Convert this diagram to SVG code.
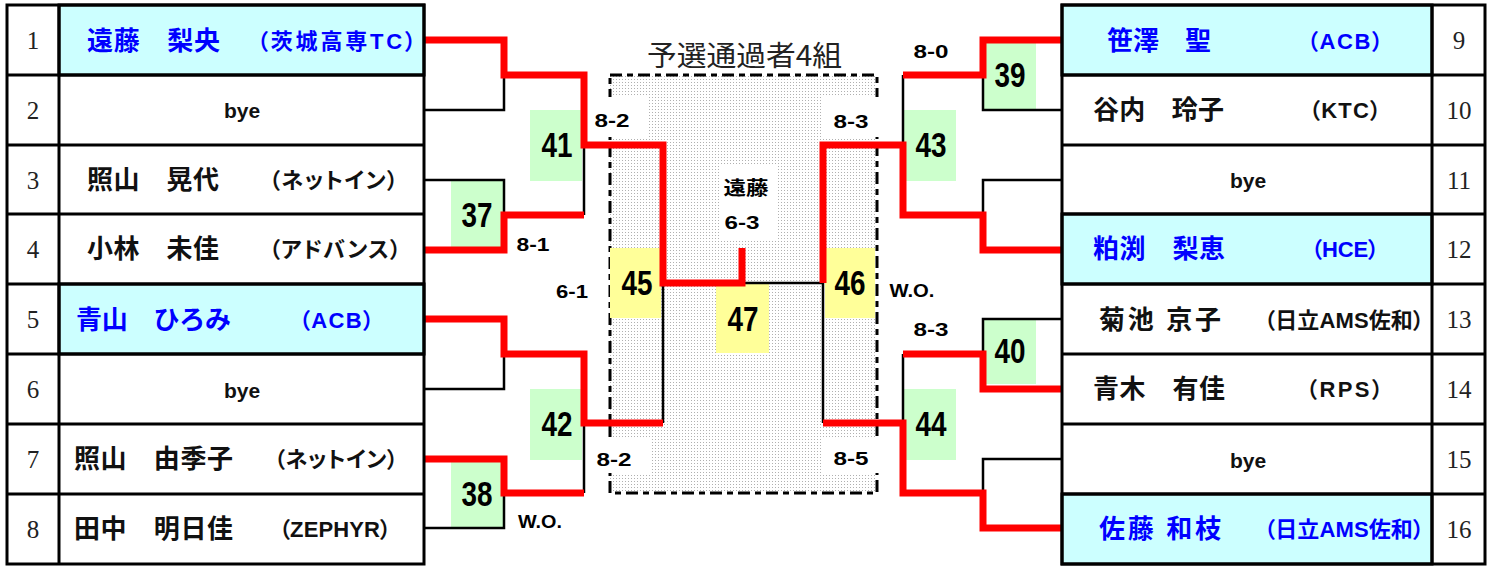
<svg xmlns="http://www.w3.org/2000/svg" width="1495" height="566" viewBox="0 0 1495 566">
<style>
.cell{fill:#ffffff;stroke:#000;stroke-width:3}
.hl{fill:#ccffff;stroke:#000;stroke-width:3}
.grid{stroke:#000;stroke-width:3;fill:none}
.seed{font-family:"Liberation Serif","Noto Serif CJK JP",serif;font-size:25px;fill:#222;text-anchor:middle}
.nm{font-family:"Liberation Sans","Noto Sans CJK JP",sans-serif;font-size:26px;font-weight:bold;fill:#111}
.org{font-family:"Liberation Sans","Noto Sans CJK JP",sans-serif;font-size:22px;font-weight:bold;fill:#111;font-feature-settings:"palt"}
.blue{fill:#0000ff}
.bye{font-family:"Liberation Sans","Noto Sans CJK JP",sans-serif;font-size:21px;font-weight:bold;fill:#111;text-anchor:middle}
.gbox{fill:#ccffcc}
.ybox{fill:#ffff99}
.num{font-family:"Liberation Sans","Noto Sans CJK JP",sans-serif;font-size:35px;font-weight:bold;fill:#000;text-anchor:middle}
.sc{font-family:"Liberation Sans","Noto Sans CJK JP",sans-serif;font-size:19px;font-weight:bold;fill:#000;text-anchor:middle}
.red{fill:none;stroke:#ff0000;stroke-width:7;stroke-linejoin:miter}
.blk{fill:none;stroke:#000;stroke-width:2.5}
</style>
<defs>
<pattern id="dots" width="3" height="3" patternUnits="userSpaceOnUse">
<rect width="3" height="3" fill="#ffffff"/>
<rect x="1" y="1" width="1" height="1" fill="#b0b0b0"/>
</pattern>
</defs>
<rect width="1495" height="566" fill="#ffffff"/>

<g id="final-box">
<rect x="610" y="75" width="267" height="418" fill="url(#dots)" stroke="#000" stroke-width="3" stroke-dasharray="12 5 6 5"/>
<rect x="590" y="97" width="58" height="40" fill="#fff"/>
<rect x="823" y="97" width="58" height="40" fill="#fff"/>
<rect x="590" y="437" width="60" height="36" fill="#fff"/>
<rect x="823" y="437" width="58" height="36" fill="#fff"/>
<rect x="720" y="165" width="57" height="75" fill="#fff"/>
<text x="647" y="66" font-family="'Noto Sans CJK JP',sans-serif" font-size="28" fill="#222" textLength="195" lengthAdjust="spacingAndGlyphs">予選通過者4組</text>
</g>

<g id="match-boxes">
<rect class="gbox" x="451" y="180" width="52" height="69"/>
<rect class="gbox" x="530" y="110" width="52" height="71"/>
<rect class="gbox" x="451" y="460" width="52" height="68"/>
<rect class="gbox" x="530" y="389" width="52" height="71"/>
<rect class="ybox" x="610" y="248" width="51" height="70"/>
<rect class="ybox" x="716" y="284" width="53" height="69"/>
<rect class="ybox" x="825" y="248" width="50" height="70"/>
<rect class="gbox" x="983" y="42" width="53" height="67"/>
<rect class="gbox" x="904" y="110" width="52" height="71"/>
<rect class="gbox" x="983" y="319" width="53" height="65"/>
<rect class="gbox" x="904" y="389" width="52" height="71"/>
</g>

<g id="connectors">
<path class="blk" d="M424,110 H504 V75"/>
<path class="blk" d="M424,180 H504 V215"/>
<path class="blk" d="M584,145 V215"/>
<path class="blk" d="M424,389 H504 V354"/>
<path class="blk" d="M424,528 H504 V493"/>
<path class="blk" d="M584,423 V493"/>
<path class="blk" d="M663,283 V423"/>
<path class="blk" d="M742,283 H823"/>
<path class="blk" d="M1062,110 H983 V75"/>
<path class="blk" d="M903,75 V145"/>
<path class="blk" d="M1062,180 H983 V215"/>
<path class="blk" d="M1062,319 H983 V354"/>
<path class="blk" d="M903,354 V423"/>
<path class="blk" d="M1062,459 H983 V493"/>
<path class="blk" d="M823,283 V423"/>
<path class="red" d="M424,40 H504 V75 H584 V145 H663 V283 H742 V248"/>
<path class="red" d="M424,250 H504 V215 H584"/>
<path class="red" d="M424,319 H504 V354 H584 V423 H663"/>
<path class="red" d="M424,459 H504 V493 H584"/>
<path class="red" d="M1062,40 H983 V75 H903"/>
<path class="red" d="M1062,250 H983 V215 H903 V145 H823 V283"/>
<path class="red" d="M1062,389 H983 V354 H903"/>
<path class="red" d="M1062,528 H983 V493 H903 V423 H823"/>
</g>

<g id="match-labels">
<text class="num" x="477" y="227" textLength="31" lengthAdjust="spacingAndGlyphs">37</text>
<text class="num" x="557" y="157" textLength="31" lengthAdjust="spacingAndGlyphs">41</text>
<text class="num" x="477" y="506" textLength="31" lengthAdjust="spacingAndGlyphs">38</text>
<text class="num" x="557" y="436" textLength="31" lengthAdjust="spacingAndGlyphs">42</text>
<text class="num" x="637" y="295" textLength="31" lengthAdjust="spacingAndGlyphs">45</text>
<text class="num" x="743" y="331" textLength="31" lengthAdjust="spacingAndGlyphs">47</text>
<text class="num" x="850" y="295" textLength="31" lengthAdjust="spacingAndGlyphs">46</text>
<text class="num" x="1010" y="87" textLength="31" lengthAdjust="spacingAndGlyphs">39</text>
<text class="num" x="931" y="157" textLength="31" lengthAdjust="spacingAndGlyphs">43</text>
<text class="num" x="1010" y="363" textLength="31" lengthAdjust="spacingAndGlyphs">40</text>
<text class="num" x="931" y="436" textLength="31" lengthAdjust="spacingAndGlyphs">44</text>
</g>

<g id="scores">
<text class="sc" x="612" y="127" textLength="35" lengthAdjust="spacingAndGlyphs">8-2</text>
<text class="sc" x="533" y="251" textLength="33" lengthAdjust="spacingAndGlyphs">8-1</text>
<text class="sc" x="572" y="298" textLength="32" lengthAdjust="spacingAndGlyphs">6-1</text>
<text class="sc" x="540" y="528" textLength="44" lengthAdjust="spacingAndGlyphs">W.O.</text>
<text class="sc" x="614" y="466" textLength="35" lengthAdjust="spacingAndGlyphs">8-2</text>
<text class="sc" x="931" y="58" textLength="35" lengthAdjust="spacingAndGlyphs">8-0</text>
<text class="sc" x="851" y="128" textLength="35" lengthAdjust="spacingAndGlyphs">8-3</text>
<text class="sc" x="746" y="195" font-size="21" textLength="45" lengthAdjust="spacingAndGlyphs">遠藤</text>
<text class="sc" x="742" y="229" textLength="35" lengthAdjust="spacingAndGlyphs">6-3</text>
<text class="sc" x="912" y="297" textLength="45" lengthAdjust="spacingAndGlyphs">W.O.</text>
<text class="sc" x="931" y="336" textLength="35" lengthAdjust="spacingAndGlyphs">8-3</text>
<text class="sc" x="851" y="465" textLength="35" lengthAdjust="spacingAndGlyphs">8-5</text>
</g>

<g id="left-table">
<rect class="hl" x="59" y="5" width="365" height="70"/>
<rect class="hl" x="59" y="284" width="365" height="70"/>
<rect class="grid" x="7" y="5" width="417" height="559"/>
<path class="grid" d="M59,5 V564 M7,75 H424 M7,145 H424 M7,214 H424 M7,284 H424 M7,354 H424 M7,424 H424 M7,494 H424"/>
<text class="seed" x="33" y="49">1</text>
<text class="seed" x="33" y="119">2</text>
<text class="seed" x="33" y="189">3</text>
<text class="seed" x="33" y="258">4</text>
<text class="seed" x="33" y="328">5</text>
<text class="seed" x="33" y="398">6</text>
<text class="seed" x="33" y="468">7</text>
<text class="seed" x="33" y="538">8</text>
</g>

<g id="p1"><text class="nm blue" x="87" y="50" textLength="133">遠藤　梨央</text><text class="org blue" x="257" y="49" textLength="159">（茨城高専TC）</text></g>
<g id="p2"><text class="bye" x="242" y="118">bye</text></g>
<g id="p3"><text class="nm" x="87" y="189" textLength="132">照山　晃代</text><text class="org" x="269" y="188" textLength="129">（ネットイン）</text></g>
<g id="p4"><text class="nm" x="87" y="258" textLength="132">小林　未佳</text><text class="org" x="269" y="257" textLength="132">（アドバンス）</text></g>
<g id="p5"><text class="nm blue" x="76" y="329" textLength="155">青山　ひろみ</text><text class="org blue" x="299" y="328" textLength="75">（ACB）</text></g>
<g id="p6"><text class="bye" x="242" y="398">bye</text></g>
<g id="p7"><text class="nm" x="74" y="468" textLength="159">照山　由季子</text><text class="org" x="274" y="467" textLength="124">（ネットイン）</text></g>
<g id="p8"><text class="nm" x="74" y="538" textLength="159">田中　明日佳</text><text class="org" x="279" y="537" textLength="112">（ZEPHYR）</text></g>

<g id="right-table">
<rect class="hl" x="1062" y="5" width="370" height="70"/>
<rect class="hl" x="1062" y="214" width="370" height="70"/>
<rect class="hl" x="1062" y="494" width="370" height="70"/>
<rect class="grid" x="1062" y="5" width="423" height="559"/>
<path class="grid" d="M1432,5 V564 M1062,75 H1485 M1062,145 H1485 M1062,214 H1485 M1062,284 H1485 M1062,354 H1485 M1062,424 H1485 M1062,494 H1485"/>
<text class="seed" x="1459" y="49">9</text>
<text class="seed" x="1459" y="119">10</text>
<text class="seed" x="1459" y="189">11</text>
<text class="seed" x="1459" y="258">12</text>
<text class="seed" x="1459" y="328">13</text>
<text class="seed" x="1459" y="398">14</text>
<text class="seed" x="1459" y="468">15</text>
<text class="seed" x="1459" y="538">16</text>
</g>

<g id="p9"><text class="nm blue" x="1107" y="50" textLength="104">笹澤　聖</text><text class="org blue" x="1307" y="49" textLength="76">（ACB）</text></g>
<g id="p10"><text class="nm" x="1093" y="119" textLength="131">谷内　玲子</text><text class="org" x="1309" y="118" textLength="72">（KTC）</text></g>
<g id="p11"><text class="bye" x="1248" y="188">bye</text></g>
<g id="p12"><text class="nm blue" x="1093" y="258" textLength="132">粕渕　梨恵</text><text class="org blue" x="1311" y="257" textLength="68">（HCE）</text></g>
<g id="p13"><text class="nm" x="1099" y="329" textLength="122">菊池 京子</text><text class="org" x="1264" y="328" textLength="160">（日立AMS佐和）</text></g>
<g id="p14"><text class="nm" x="1093" y="398" textLength="132">青木　有佳</text><text class="org" x="1306" y="397" textLength="77">（RPS）</text></g>
<g id="p15"><text class="bye" x="1248" y="468">bye</text></g>
<g id="p16"><text class="nm blue" x="1099" y="538" textLength="122">佐藤 和枝</text><text class="org blue" x="1264" y="537" textLength="160">（日立AMS佐和）</text></g>
</svg>
